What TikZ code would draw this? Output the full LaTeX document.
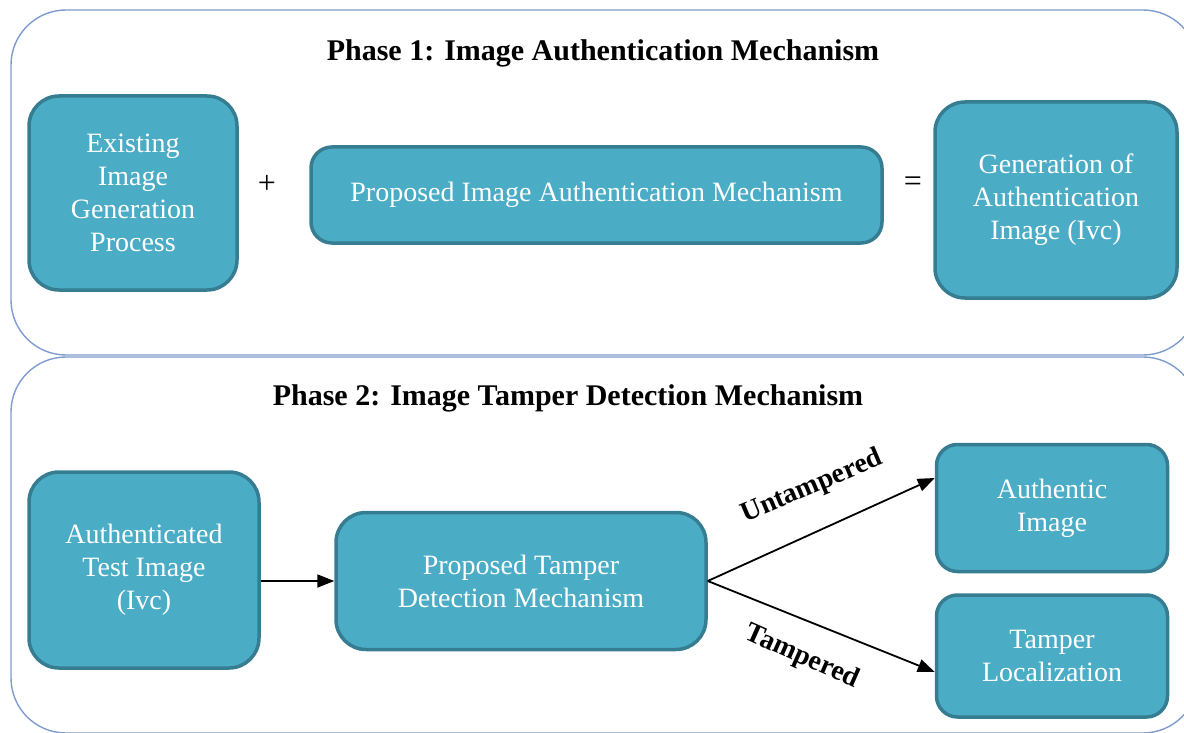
\documentclass[tikz,border=0pt]{standalone}
\usepackage{fontspec}
\setmainfont{Liberation Serif}
\usetikzlibrary{arrows.meta}
\definecolor{boxfill}{RGB}{75,172,198}
\definecolor{boxline}{RGB}{54,125,146}
\definecolor{panel}{RGB}{125,155,205}
\tikzset{
  panelbox/.style={draw=panel,line width=1.4pt,rounded corners=55pt},
  stage/.style={draw=boxline,fill=boxfill,line width=3.5pt,text=white,align=center,inner sep=0pt,
    font=\fontsize{28}{33}\selectfont},
  bigr/.style={rounded corners=30pt},
  smallr/.style={rounded corners=21pt},
  ttl/.style={font=\fontsize{30}{34}\selectfont\bfseries},
  elabel/.style={font=\fontsize{28}{32}\selectfont\bfseries},
  op/.style={font=\fontsize{32}{34}\selectfont},
  arr/.style={line width=1.8pt,-{Triangle[length=17pt,width=13pt]}}
}
\begin{document}
\begin{tikzpicture}[x=1pt,y=-1pt]
\useasboundingbox (0,0) rectangle (1184,733);
\clip (0,0) rectangle (1184,733);
% panels
\draw[panelbox] (11,10) rectangle (1198,355);
\draw[panelbox] (11,357) rectangle (1198,733);
% titles
\node[ttl] (t1) at (603,53) {Phase 1: Image Authentication Mechanism};
\node[ttl] (t2) at (568,398) {Phase 2: Image Tamper Detection Mechanism};
% phase 1
\node[stage,bigr,minimum width=208pt,minimum height=194pt] (b1) at (133,193) {Existing\\Image\\Generation\\Process};
\node[op] (plus) at (267,184) {+};
\node[stage,smallr,minimum width=571pt,minimum height=96pt] (b2) at (596.5,195) {Proposed Image Authentication Mechanism};
\node[op] (eq) at (913,184) {=};
\node[stage,bigr,minimum width=242pt,minimum height=196pt] (b3) at (1056,200) {Generation of\\Authentication\\Image (Ivc)};
% phase 2
\node[stage,bigr,minimum width=230pt,minimum height=196pt] (b4) at (144,570) {Authenticated\\Test Image\\(Ivc)};
\node[stage,bigr,minimum width=370pt,minimum height=137pt] (b5) at (521,581) {Proposed Tamper\\Detection Mechanism};
\node[stage,smallr,minimum width=231pt,minimum height=127pt] (b6) at (1052,508) {Authentic\\Image};
\node[stage,smallr,minimum width=231pt,minimum height=122pt] (b7) at (1052,656) {Tamper\\Localization};
\draw[arr] (b4.east |- b5.west) -- (b5.west);
\draw[arr] (b5.east) -- ([yshift=30pt]b6.west);
\draw[arr] (b5.east) -- ([yshift=-16pt]b7.west);
\node[elabel,rotate=23] (lu) at (812,487) {Untampered};
\node[elabel,rotate=-24] (lt) at (802,657) {Tampered};
\end{tikzpicture}
\end{document}
